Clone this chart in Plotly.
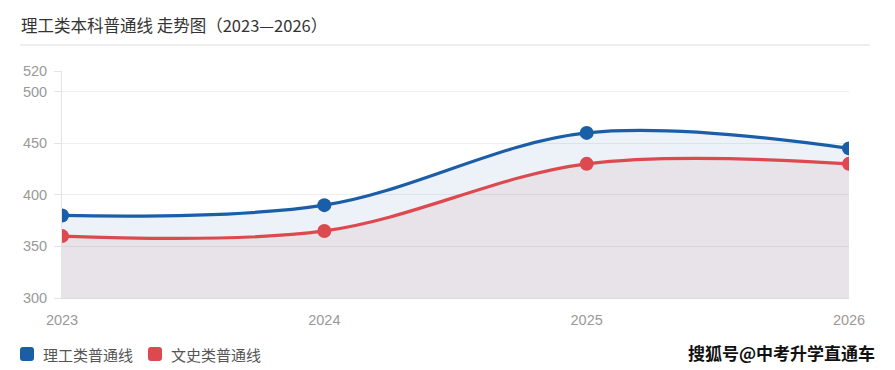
import plotly.graph_objects as go

years = [2023, 2024, 2025, 2026]
science = [380, 390, 460, 445]
arts = [360, 365, 430, 430]
series_names = ["理工类普通线", "文史类普通线"]
y_ticks = [300, 350, 400, 450, 500, 520]
title_text = "理工类本科普通线 走势图（2023—2026）"
watermark = "搜狐号@中考升学直通车"

BLUE = "#1a5ea8"
RED = "#dc4a50"
FONT = "Arial, 'Liberation Sans', 'Noto Sans CJK SC', sans-serif"
CJK = "'Microsoft YaHei', 'Noto Sans CJK SC', sans-serif"

L, R, T, B = 62, 46, 71, 72
W, H = 895, 370
pw, ph = W - L - R, H - T - B

def px(x):
    return (x - L) / pw

def py(y):
    return (H - B - y) / ph

fig = go.Figure()
fig.add_trace(go.Scatter(
    x=years, y=science, mode="lines+markers", fill="tozeroy",
    fillcolor="rgba(30,90,180,0.08)",
    line=dict(color=BLUE, width=3.2, shape="spline", smoothing=1.0),
    marker=dict(size=14, color=BLUE), showlegend=False, hoverinfo="skip"))
fig.add_trace(go.Scatter(
    x=years, y=arts, mode="lines+markers", fill="tozeroy",
    fillcolor="rgba(197,102,99,0.10)",
    line=dict(color=RED, width=3.2, shape="spline", smoothing=1.0),
    marker=dict(size=14, color=RED), showlegend=False, hoverinfo="skip"))

shapes = [dict(type="line", xref="paper", yref="paper", x0=px(20), x1=px(870),
               y0=py(45), y1=py(45), line=dict(color="#dddddd", width=1))]
annotations = [
    dict(text=title_text, xref="paper", yref="paper", x=px(19), y=py(25),
         xanchor="left", yanchor="middle", showarrow=False,
         font=dict(family=CJK, size=16.5, color="#333")),
    dict(text="<b>" + watermark + "</b>", xref="paper", yref="paper", x=px(877), y=py(352),
         xanchor="right", yanchor="middle", showarrow=False,
         font=dict(family=CJK, size=17, color="#111")),
]

# manual legend
legend_x = [20, 148]
for name, col, lx in zip(series_names, [BLUE, RED], legend_x):
    x0, x1, y0, y1, r = lx, lx + 14, 347, 361, 3
    path = (f"M {px(x0 + r)} {py(y0)} L {px(x1 - r)} {py(y0)} "
            f"Q {px(x1)} {py(y0)} {px(x1)} {py(y0 + r)} L {px(x1)} {py(y1 - r)} "
            f"Q {px(x1)} {py(y1)} {px(x1 - r)} {py(y1)} L {px(x0 + r)} {py(y1)} "
            f"Q {px(x0)} {py(y1)} {px(x0)} {py(y1 - r)} L {px(x0)} {py(y0 + r)} "
            f"Q {px(x0)} {py(y0)} {px(x0 + r)} {py(y0)} Z")
    shapes.append(dict(type="path", xref="paper", yref="paper", path=path,
                       fillcolor=col, line=dict(width=0)))
    annotations.append(dict(text=name, xref="paper", yref="paper", x=px(lx + 21), y=py(354),
                            xanchor="left", yanchor="middle", showarrow=False,
                            font=dict(family=CJK, size=15, color="#555")))

fig.update_layout(
    width=W, height=H,
    margin=dict(l=L, r=R, t=T, b=B, autoexpand=False),
    paper_bgcolor="white", plot_bgcolor="white",
    font=dict(family=FONT, color="#999"),
    showlegend=False,
    xaxis=dict(range=[2023, 2026], tickvals=years, ticktext=[str(y) for y in years],
               showgrid=False, zeroline=False, showline=True, linecolor="#ddd",
               tickfont=dict(size=14.5, color="#999"), ticks="", ticklabelstandoff=9),
    yaxis=dict(range=[300, 520], tickvals=y_ticks, showgrid=True, gridcolor="#eeeeee",
               zeroline=False, showline=True, linecolor="#e4e4e4",
               ticks="outside", ticklen=7, tickcolor="#e4e4e4", tickwidth=1,
               tickfont=dict(size=14.5, color="#999"), ticklabelstandoff=4),
    shapes=shapes,
    annotations=annotations,
)

fig.write_html("out.html")
